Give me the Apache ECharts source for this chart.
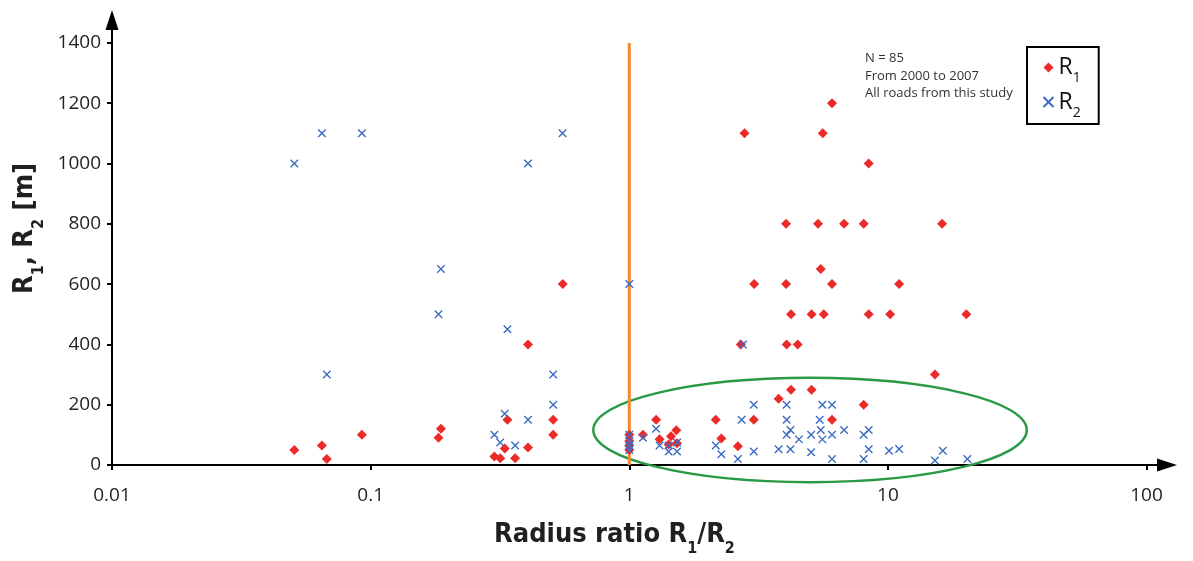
<!DOCTYPE html>
<html>
<head>
<meta charset="utf-8">
<title>Radius ratio R1/R2</title>
<script src="https://cdn.jsdelivr.net/npm/echarts@6/dist/echarts.min.js"></script>
<style>
  html, body { margin: 0; padding: 0; background: #fff; }
  #chart { width: 1193px; height: 561px; }
</style>
</head>
<body>
<div id="chart"></div>
<script>
// Radius ratio R1/R2 for each road (x) against the radius value in metres (y)
const r1Points = [
  [0.0507, 50], [0.0648, 65], [0.0677, 20], [0.0925, 100], [0.183, 90], [0.187, 120],
  [0.301, 28], [0.317, 22], [0.330, 55], [0.338, 150], [0.362, 22], [0.406, 400],
  [0.406, 58], [0.508, 100], [0.508, 150], [0.553, 600],
  [1, 100], [1, 80], [1, 65], [1, 50],
  [1.13, 100], [1.27, 150], [1.31, 85], [1.45, 95], [1.42, 68], [1.52, 115], [1.53, 72],
  [2.16, 150], [2.27, 88], [2.63, 62], [2.70, 400], [2.79, 1100], [3.03, 150], [3.04, 600],
  [3.78, 220], [4.04, 800], [4.04, 600], [4.06, 400], [4.22, 500], [4.22, 250], [4.48, 400],
  [5.07, 500], [5.07, 250], [5.37, 800], [5.5, 650], [5.6, 1100], [5.65, 500],
  [6.08, 1200], [6.08, 600], [6.08, 150], [6.77, 800], [8.06, 800], [8.06, 200],
  [8.43, 1000], [8.43, 500], [10.2, 500], [11.05, 600], [15.2, 300], [16.2, 800], [20.1, 500]
];

const r2Points = [
  [0.0507, 1000], [0.0648, 1100], [0.0677, 300], [0.0925, 1100], [0.183, 500], [0.187, 650],
  [0.301, 100], [0.317, 75], [0.330, 170], [0.338, 450], [0.362, 65], [0.406, 1000],
  [0.406, 150], [0.508, 200], [0.508, 300], [0.552, 1100],
  [1, 600], [1, 100], [1, 80], [1, 65], [1, 50],
  [1.13, 90], [1.27, 120], [1.31, 65], [1.42, 65], [1.42, 45], [1.53, 75], [1.53, 45],
  [2.16, 65], [2.27, 36], [2.63, 20], [2.72, 150], [2.75, 400], [3.03, 200], [3.03, 45],
  [3.78, 52], [4.06, 200], [4.06, 150], [4.06, 100], [4.2, 116], [4.2, 52], [4.53, 85],
  [5.05, 100], [5.05, 42], [5.45, 150], [5.5, 116], [5.58, 200], [5.58, 85],
  [6.08, 200], [6.08, 100], [6.08, 20], [6.77, 116], [8.06, 100], [8.06, 20],
  [8.43, 116], [8.43, 52], [10.1, 47], [11.05, 53], [15.2, 15], [16.3, 47], [20.3, 20]
];

// Vertical reference at ratio 1 (R1 = R2)
const equalRatioLine = [[1, 0], [1, 1400]];

// Highlighted group: centre ratio, centre value, left-edge ratio, top-edge value
const highlightEllipse = [[5.0, 116, 0.726, 289]];

const yTickValues = [0, 200, 400, 600, 800, 1000, 1200, 1400];
const xTickLabels = ['0.01', '0.1', '1', '10', '100'];

const notes = ['N = 85', 'From 2000 to 2007', 'All roads from this study'];

const RED = '#ec2a2a';
const BLUE = '#3b6cc2';
const ORANGE = '#f7892b';
const GREEN = '#2b9945';
const TEXT = '#231f20';
const LABEL_FONT = '"Open Sans", "Noto Sans", sans-serif';
const TITLE_FONT = '"Liberation Sans Narrow", "DejaVu Sans Condensed", "Liberation Sans", sans-serif';

const crossPath = 'path://M0,0 L10,10 M10,0 L0,10';

const chart = echarts.init(document.getElementById('chart'), null, { renderer: 'canvas' });

chart.setOption({
  animation: false,
  backgroundColor: '#ffffff',
  grid: { left: 112, right: 26, top: 20, bottom: 96, containLabel: false, outerBoundsMode: 'none' },
  title: {
    text: notes.join('\n'),
    left: 865,
    top: 50,
    padding: 0,
    textStyle: { fontFamily: LABEL_FONT, fontSize: 13, fontWeight: 'normal', color: '#333', lineHeight: 17.5 }
  },
  legend: {
    data: ['R1', 'R2'],
    orient: 'vertical',
    left: 1027,
    top: 47,
    padding: [9, 18, 4, 14],
    itemGap: 5,
    itemWidth: 10,
    itemHeight: 10,
    itemTextGap: 9,
    borderColor: '#000',
    borderWidth: 2,
    formatter: function (name) { return '{r|R}{s|' + name.slice(1) + '}'; },
    textStyle: {
      rich: {
        r: { fontFamily: LABEL_FONT, fontSize: 23, color: '#111', lineHeight: 28 },
        s: { fontFamily: LABEL_FONT, fontSize: 14, color: '#111', verticalAlign: 'bottom', lineHeight: 14, padding: [0, 0, -4, 0] }
      }
    }
  },
  xAxis: {
    type: 'log',
    logBase: 10,
    min: 0.01,
    max: 120,
    name: '{t|Radius ratio R}{s|1}{t|/R}{s|2}',
    nameLocation: 'middle',
    nameGap: 54,
    nameTextStyle: {
      padding: [0, 50, 0, 0],
      rich: {
        t: { fontFamily: TITLE_FONT, fontSize: 27, fontWeight: 'bold', color: TEXT, lineHeight: 32 },
        s: { fontFamily: TITLE_FONT, fontSize: 16, fontWeight: 'bold', color: TEXT, verticalAlign: 'bottom', lineHeight: 16, padding: [0, 0, -6, 0] }
      }
    },
    splitLine: { show: false },
    minorTick: { show: false },
    axisLine: {
      onZero: false,
      symbol: ['none', 'triangle'],
      symbolSize: [13, 20],
      lineStyle: { color: '#000', width: 2 }
    },
    axisTick: { show: true, inside: false, length: 5, lineStyle: { color: '#000', width: 2 } },
    axisLabel: {
      showMaxLabel: false,
      margin: 21,
      fontFamily: LABEL_FONT,
      fontSize: 19,
      color: TEXT,
      formatter: function (v) {
        const exp = Math.round(Math.log10(v));
        return xTickLabels[exp + 2] !== undefined && Math.abs(Math.log10(v) - exp) < 1e-6 ? xTickLabels[exp + 2] : '';
      }
    }
  },
  yAxis: {
    type: 'value',
    min: 0,
    max: 1476,
    name: '{t|R}{s|1}{t|, R}{s|2}{t| [m]}',
    nameLocation: 'middle',
    nameGap: 70,
    nameRotate: 90,
    nameTextStyle: {
      padding: [0, 0, 0, 28],
      rich: {
        t: { fontFamily: TITLE_FONT, fontSize: 27, fontWeight: 'bold', color: TEXT, lineHeight: 32 },
        s: { fontFamily: TITLE_FONT, fontSize: 16, fontWeight: 'bold', color: TEXT, verticalAlign: 'bottom', lineHeight: 16, padding: [0, 0, -6, 0] }
      }
    },
    splitLine: { show: false },
    axisLine: {
      show: true,
      symbol: ['none', 'triangle'],
      symbolSize: [13, 20],
      lineStyle: { color: '#000', width: 2 }
    },
    axisTick: { show: true, inside: false, length: 5, customValues: yTickValues, lineStyle: { color: '#000', width: 2 } },
    axisLabel: {
      customValues: yTickValues,
      margin: 11,
      fontFamily: LABEL_FONT,
      fontSize: 19,
      color: TEXT,
      formatter: function (v) { return String(v); }
    }
  },
  series: [
    {
      name: 'ratio1',
      type: 'line',
      data: equalRatioLine,
      symbol: 'none',
      silent: true,
      z: 1,
      lineStyle: { color: ORANGE, width: 3 }
    },
    {
      name: 'group',
      type: 'custom',
      data: highlightEllipse,
      clip: false,
      silent: true,
      z: 1,
      renderItem: function (params, api) {
        const c = api.coord([api.value(0), api.value(1)]);
        const l = api.coord([api.value(2), api.value(1)]);
        const t = api.coord([api.value(0), api.value(3)]);
        return {
          type: 'ellipse',
          shape: { cx: c[0], cy: c[1], rx: c[0] - l[0], ry: c[1] - t[1] },
          style: { fill: 'none', stroke: GREEN, lineWidth: 2.5 }
        };
      }
    },
    {
      name: 'R1',
      type: 'scatter',
      data: r1Points,
      symbol: 'diamond',
      symbolSize: 10,
      z: 3,
      itemStyle: { color: RED, opacity: 1 }
    },
    {
      name: 'R2',
      type: 'scatter',
      data: r2Points,
      symbol: crossPath,
      symbolSize: 7.5,
      z: 4,
      itemStyle: { color: 'none', borderColor: BLUE, borderWidth: 1.4, opacity: 1 }
    }
  ]
});
</script>
</body>
</html>
